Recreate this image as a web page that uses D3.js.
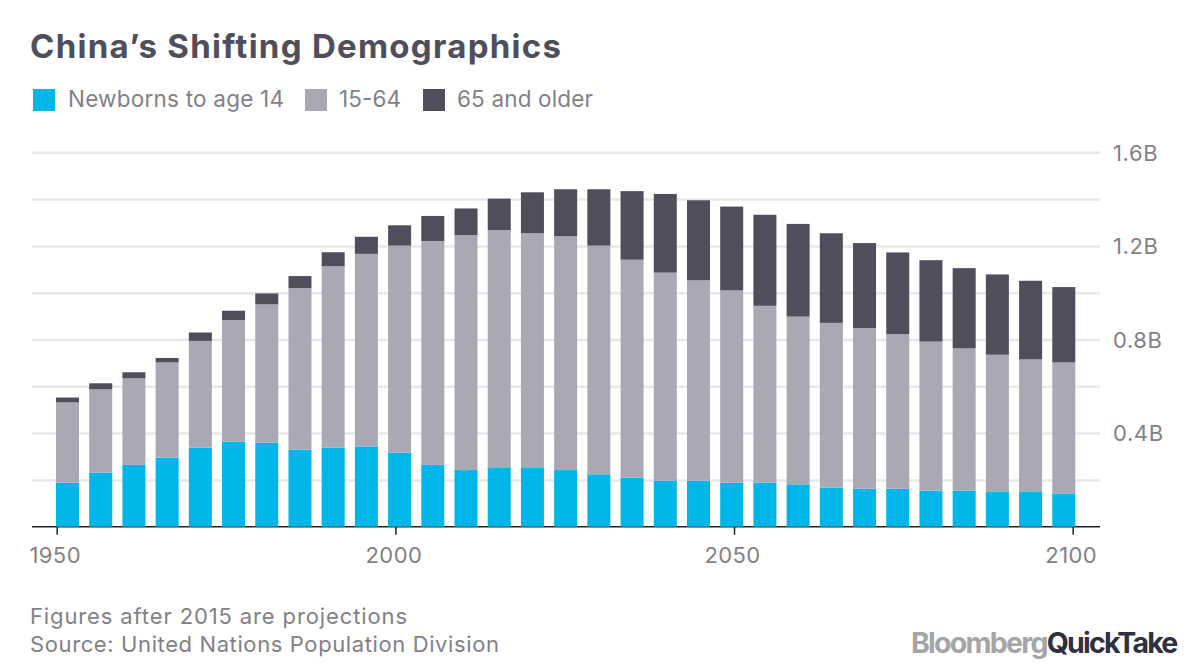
<!DOCTYPE html>
<html><head><meta charset="utf-8">
<script src="https://cdnjs.cloudflare.com/ajax/libs/d3/7.8.5/d3.min.js"></script>
<style>html,body{margin:0;padding:0;background:#fff}svg{display:block}text{font-family:Inter,"Noto Sans",sans-serif}</style>
</head><body><svg id="c" width="1200" height="672"></svg>
<script>
const years = d3.range(1950, 2101, 5);
const young = [.188,.231,.264,.295,.338,.363,.359,.329,.338,.343,.316,.264,.242,.251,.251,.242,.224,.209,.197,.197,.188,.188,.181,.167,.162,.162,.154,.154,.148,.148,.142];
const working = [.343,.356,.370,.407,.456,.520,.591,.691,.775,.823,.885,.957,1.004,1.017,1.003,.999,.977,.932,.889,.856,.822,.756,.717,.704,.687,.661,.637,.608,.587,.567,.560];
const older = [.021,.026,.026,.019,.036,.040,.047,.051,.060,.073,.087,.107,.114,.134,.175,.201,.241,.293,.336,.342,.358,.389,.396,.383,.363,.349,.348,.343,.343,.336,.322];
const seriesNames = ["Newborns to age 14","15-64","65 and older"];
const seriesColors = ["#00b6e8","#a9a9b5","#4f4e5c"];
const yTicks = [.2,.4,.6,.8,1,1.2,1.4,1.6];
const yLabelled = [.4,.8,1.2,1.6];
const xTicks = [1950,2000,2050,2100];
const title = "China\u2019s Shifting Demographics";
const notes = ["Figures after 2015 are projections","Source: United Nations Population Division"];

const svg = d3.select("#c");
const y = d3.scaleLinear().domain([0,1.6]).range([526.7,152.3]);
const xBand = d3.scaleBand().domain(years).range([56,1075.3]).paddingInner(.307).paddingOuter(0);
const xAxisScale = d3.scaleLinear().domain([1950,2100]).range([56.7,1072.7]);

// title
svg.append("text").attr("x",30).attr("y",58).attr("font-size",33).attr("font-weight",700)
  .attr("fill","#4f4e5c").attr("textLength",531).attr("lengthAdjust","spacing").text(title);

// legend
const legendX = [33,305,423], legendTextX = [68,339,457], legendW=[216,62,136];
seriesNames.forEach((n,i)=>{
  svg.append("rect").attr("x",legendX[i]).attr("y",89).attr("width",22).attr("height",22).attr("fill",seriesColors[i]);
  svg.append("text").attr("x",legendTextX[i]).attr("y",107).attr("font-size",22.5).attr("fill","#818187")
    .attr("textLength",legendW[i]).attr("lengthAdjust","spacing").text(n);
});

// grid + y axis
const yAxis = d3.axisRight(y).tickValues(yTicks).tickSize(0).tickPadding(0)
  .tickFormat(d=>yLabelled.includes(d)?d3.format(".1f")(d)+"B":"");
const gy = svg.append("g").attr("transform","translate(1100,0)").call(yAxis);
gy.select(".domain").remove();
gy.selectAll(".tick line").attr("x1",-1068).attr("x2",0).attr("stroke","#e8e8ec").attr("stroke-width",2.5);
gy.selectAll(".tick text").attr("x",13).attr("dy",".35em").attr("font-size",22).attr("letter-spacing",.6)
  .attr("fill","#818187").style("font-family","Inter,'Noto Sans',sans-serif");

// x axis line + ticks
const xAxis = d3.axisBottom(xAxisScale).tickValues(xTicks).tickFormat(d3.format("d")).tickSize(8).tickPadding(13);
const gx = svg.append("g").attr("transform","translate(0,526.7)").call(xAxis);
gx.select(".domain").remove();
gx.selectAll(".tick line").attr("stroke","#222").attr("stroke-width",1.5);
gx.selectAll(".tick text").attr("x",-2).attr("font-size",22).attr("letter-spacing",.4).attr("fill","#818187")
  .style("font-family","Inter,'Noto Sans',sans-serif");
svg.append("line").attr("x1",32).attr("x2",1100).attr("y1",y(0)).attr("y2",y(0)).attr("stroke","#222").attr("stroke-width",1.6);

// stacked bars
const rows = years.map((yr,i)=>({year:yr,a:young[i],b:working[i],c:older[i]}));
const stack = d3.stack().keys(["a","b","c"])(rows);
svg.append("g").selectAll("g").data(stack).join("g").attr("fill",(d,i)=>seriesColors[i])
  .selectAll("rect").data(d=>d).join("rect")
  .attr("x",d=>xBand(d.data.year)).attr("width",xBand.bandwidth())
  .attr("y",d=>y(d[1])).attr("height",d=>y(d[0])-y(d[1]));

// notes
notes.forEach((t,i)=>{
  svg.append("text").attr("x",30).attr("y",624+i*28).attr("font-size",22).attr("fill","#818187")
    .attr("textLength",i?469:377).attr("lengthAdjust","spacing").text(t);
});

// brand
const b = svg.append("text").attr("x",911).attr("y",653).attr("font-size",28.5).attr("font-weight",700).attr("letter-spacing",-1.75);
b.append("tspan").attr("fill","#a5a5a8").text("Bloomberg");
b.append("tspan").attr("fill","#2f3040").text("QuickTake");
</script></body></html>
